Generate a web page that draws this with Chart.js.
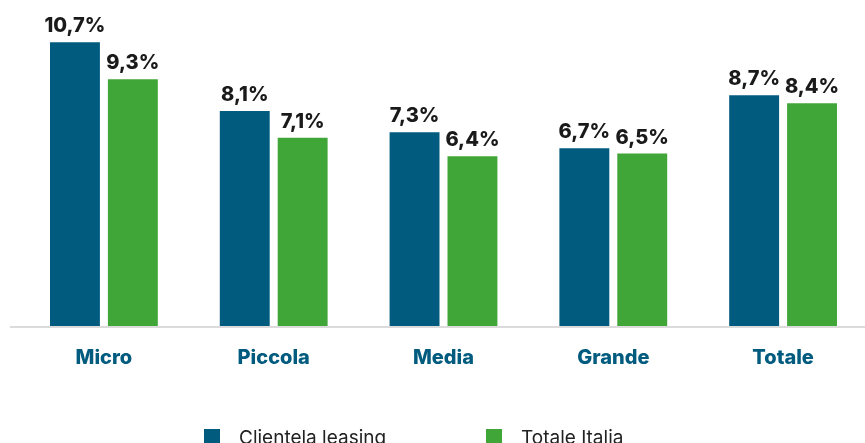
<!DOCTYPE html>
<html>
<head>
<meta charset="utf-8">
<script src="https://cdn.jsdelivr.net/npm/chart.js@4/dist/chart.umd.min.js"></script>
<style>
  html, body { margin: 0; padding: 0; background: #fff; overflow: hidden; }
  #wrap { position: relative; width: 865px; height: 443px; overflow: hidden; }
  #chart { position: absolute; left: 0; top: 0; }
  .leg { position: absolute; top: 426px; display: flex; align-items: center; font-family: Inter, sans-serif; font-size: 19px; color: #222; white-space: nowrap; }
  .leg span.box { display: inline-block; width: 16px; height: 17px; margin-right: 19px; }
</style>
</head>
<body>
<div id="wrap">
  <canvas id="chart" width="869" height="443"></canvas>
  <div id="legend"></div>
</div>
<script>
const categories = ['Micro', 'Piccola', 'Media', 'Grande', 'Totale'];
const seriesNames = ['Clientela leasing', 'Totale Italia'];
const clientelaLeasing = [10.7, 8.1, 7.3, 6.7, 8.7];
const totaleItalia = [9.3, 7.1, 6.4, 6.5, 8.4];
const colors = ['#005b7f', '#40a637'];

const fmt = v => v.toFixed(1).replace('.', ',') + '%';

// value labels above the bars + baseline that runs a bit past the plot area
const barLabels = {
  id: 'barLabels',
  afterDatasetsDraw(chart) {
    const { ctx } = chart;
    ctx.save();
    ctx.font = '800 20px Inter, sans-serif';
    ctx.fillStyle = '#1a1a1a';
    ctx.textAlign = 'center';
    ctx.textBaseline = 'bottom';
    chart.data.datasets.forEach((ds, i) => {
      chart.getDatasetMeta(i).data.forEach((bar, j) => {
        ctx.fillText(fmt(ds.data[j]), bar.x, bar.y - 6);
      });
    });
    const y = chart.scales.y.getPixelForValue(0) + 1;
    ctx.strokeStyle = '#cfcfcf';
    ctx.lineWidth = 1.5;
    ctx.beginPath();
    ctx.moveTo(10, y);
    ctx.lineTo(chart.width, y);
    ctx.stroke();
    ctx.restore();
  }
};

const chart = new Chart(document.getElementById('chart'), {
  type: 'bar',
  data: {
    labels: categories,
    datasets: [
      { label: seriesNames[0], data: clientelaLeasing, backgroundColor: colors[0] },
      { label: seriesNames[1], data: totaleItalia, backgroundColor: colors[1] }
    ]
  },
  options: {
    responsive: false,
    animation: false,
    categoryPercentage: 0.682,
    barPercentage: 0.862,
    layout: { padding: { left: 19, right: 1, top: 5, bottom: 61 } },
    plugins: {
      legend: { display: false },
      tooltip: { enabled: false }
    },
    scales: {
      x: {
        grid: { display: false },
        border: { display: false },
        ticks: {
          color: '#005b7f',
          padding: 12,
          font: { family: 'Inter', size: 20, weight: '800' }
        }
      },
      y: {
        display: false,
        min: 0,
        max: 12.1
      }
    }
  },
  plugins: [barLabels]
});

// legend built from the datasets
const legend = document.getElementById('legend');
const legendX = [204, 486];
chart.data.datasets.forEach((ds, i) => {
  const item = document.createElement('div');
  item.className = 'leg';
  item.style.left = legendX[i] + 'px';
  item.innerHTML = '<span class="box" style="background:' + ds.backgroundColor + '"></span>' + ds.label;
  legend.appendChild(item);
});
</script>
</body>
</html>
